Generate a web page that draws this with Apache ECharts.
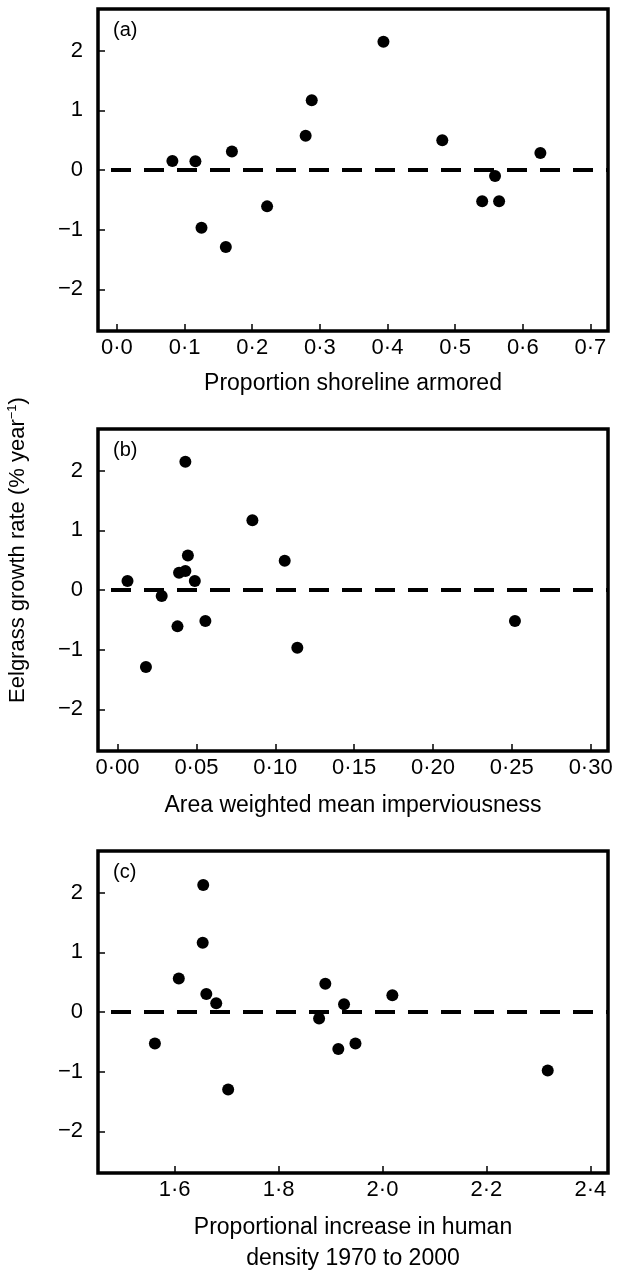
<!DOCTYPE html>
<html>
<head>
<meta charset="utf-8">
<script src="https://cdn.jsdelivr.net/npm/echarts@6/dist/echarts.min.js"></script>
<style>
  html, body { margin: 0; padding: 0; background: #fff; }
  #chart { width: 620px; height: 1270px; }
</style>
</head>
<body>
<div id="chart"></div>
<script>
// values (same 14 sites in each)
const armoredX = [0.082, 0.116, 0.125, 0.161, 0.170, 0.222, 0.279, 0.288, 0.394, 0.481, 0.540, 0.559, 0.565, 0.626]
const armoredY = [0.15, 0.145, -0.97, -1.29, 0.31, -0.61, 0.575, 1.17, 2.15, 0.50, -0.525, -0.10, -0.525, 0.285]

const impervX = [0.0063, 0.018, 0.028, 0.038, 0.039, 0.043, 0.043, 0.0446, 0.049, 0.0557, 0.0855, 0.106, 0.114, 0.252]
const impervY = [0.15, -1.29, -0.10, -0.61, 0.29, 0.32, 2.15, 0.58, 0.15, -0.52, 1.17, 0.49, -0.97, -0.52]

const densityX = [1.562, 1.608, 1.655, 1.654, 1.661, 1.680, 1.703, 1.878, 1.890, 1.915, 1.926, 1.948, 2.019, 2.318]
const densityY = [-0.53, 0.56, 2.13, 1.16, 0.30, 0.145, -1.30, -0.11, 0.475, -0.62, 0.13, -0.53, 0.28, -0.98]

// tick labels
const armoredTicks = [0, 0.1, 0.2, 0.3, 0.4, 0.5, 0.6, 0.7]
const impervTicks = [0, 0.05, 0.10, 0.15, 0.20, 0.25, 0.30]
const densityTicks = [1.6, 1.8, 2.0, 2.2, 2.4]
const rateTicks = [-2, -1, 0, 1, 2]

const panelNames = ['(a)', '(b)', '(c)']
const xTitles = ['Proportion shoreline armored', 'Area weighted mean imperviousness', 'Proportional increase in human\ndensity 1970 to 2000']

const font = '"Liberation Sans", Arial, Helvetica, sans-serif'

let myChart = echarts.init(document.getElementById('chart'), null, { renderer: 'canvas' })

function zip(xs, ys) {
  let out = []
  for (let i = 0; i < xs.length; i++) out.push([xs[i], ys[i]])
  return out
}

const grids = [
  { left: 98, top: 9, width: 510, height: 322 },
  { left: 98, top: 429, width: 510, height: 322 },
  { left: 98, top: 851, width: 510, height: 322 }
]

const xSpecs = [
  { min: -0.028, max: 0.726, ticks: armoredTicks, digits: 1, gap: 37 },
  { min: -0.0124, max: 0.311, ticks: impervTicks, digits: 2, gap: 39 },
  { min: 1.4525, max: 2.434, ticks: densityTicks, digits: 1, gap: 39 }
]

const xAxes = xSpecs.map((s, i) => ({
  type: 'value',
  gridIndex: i,
  min: s.min,
  max: s.max,
  name: xTitles[i],
  nameLocation: 'middle',
  nameGap: s.gap,
  nameTextStyle: { fontFamily: font, fontSize: 23, color: '#000', lineHeight: 31 },
  axisLine: { show: false, onZero: false },
  splitLine: { show: false },
  axisTick: { show: true, inside: true, length: 7, customValues: s.ticks, lineStyle: { color: '#000', width: 1.5 } },
  axisLabel: {
    customValues: s.ticks,
    margin: 6,
    fontFamily: font, fontSize: 22, color: '#000',
    formatter: v => v.toFixed(s.digits).replace('.', '\u00b7')
  }
}))

const yAxes = [0, 1, 2].map(i => ({
  type: 'value',
  gridIndex: i,
  min: -2.7,
  max: 2.7,
  axisLine: { show: false, onZero: false },
  splitLine: { show: false },
  axisTick: { show: true, inside: true, length: 7, customValues: rateTicks, lineStyle: { color: '#000', width: 1.5 } },
  axisLabel: {
    customValues: rateTicks,
    margin: 15,
    fontFamily: font, fontSize: 22, color: '#000',
    formatter: v => String(v).replace('-', '\u2212')
  }
}))

const allData = [zip(armoredX, armoredY), zip(impervX, impervY), zip(densityX, densityY)]

const series = allData.map((d, i) => ({
  type: 'scatter',
  xAxisIndex: i,
  yAxisIndex: i,
  data: d,
  symbol: 'circle',
  symbolSize: 12,
  itemStyle: { color: '#000', opacity: 1 },
  silent: true,
  markLine: {
    silent: true,
    symbol: 'none',
    label: { show: false },
    lineStyle: { color: '#000', width: 4, type: [20, 13], dashOffset: 20, opacity: 1 },
    data: [{ yAxis: 0 }]
  }
}))

let option = {
  animation: false,
  backgroundColor: '#fff',
  grid: grids.map(g => Object.assign({ show: true, borderColor: '#000', borderWidth: 3.5, backgroundColor: 'transparent', outerBoundsMode: 'none' }, g)),
  xAxis: xAxes,
  yAxis: yAxes,
  series: series,
  graphic: [
    ...panelNames.map((t, i) => ({
      type: 'text',
      left: 113,
      top: grids[i].top + 11,
      style: { text: t, fontFamily: font, fontSize: 20, fill: '#000' }
    })),
    {
      type: 'text',
      x: 18,
      y: 550,
      rotation: Math.PI / 2,
      style: {
        text: '{a|Eelgrass growth rate (% year}{s|\u22121}{a|)}',
        align: 'center',
        verticalAlign: 'middle',
        rich: {
          a: { fontFamily: font, fontSize: 22, fill: '#000', lineHeight: 26 },
          s: { fontFamily: font, fontSize: 13, fill: '#000', lineHeight: 26, padding: [0, 0, 12, 0] }
        }
      }
    }
  ]
}

myChart.setOption(option)
</script>
</body>
</html>
